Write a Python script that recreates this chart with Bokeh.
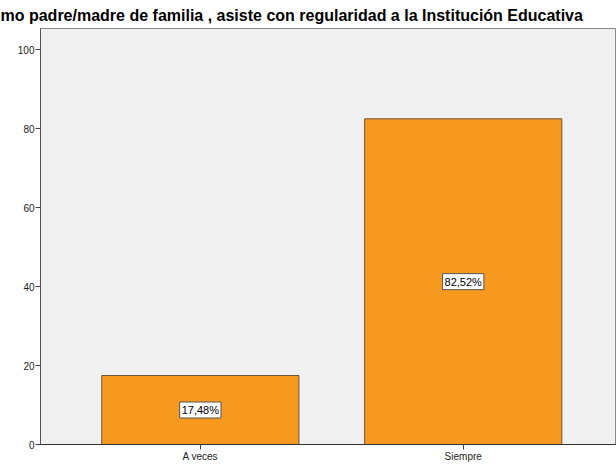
from bokeh.plotting import figure
from bokeh.models import ColumnDataSource, Label, FixedTicker, Range1d
from bokeh.embed import file_html
from bokeh.resources import INLINE

categories = ["A veces", "Siempre"]
percent = [17.48, 82.52]
bar_labels = ["17,48%", "82,52%"]
y_ticks = [0, 20, 40, 60, 80, 100]
title_text = "mo padre/madre de familia , asiste con regularidad a la Institución Educativa"

xs = list(range(len(categories)))
src = ColumnDataSource(dict(x=xs, top=percent))

p = figure(width=616, height=464, output_backend="svg", toolbar_location=None,
           x_range=Range1d(-0.608, 1.583), y_range=Range1d(0, 105.4),
           min_border_left=40, min_border_right=0, min_border_top=0, min_border_bottom=18)

p.title.text = title_text
p.title.text_font = "Liberation Sans"
p.title.text_font_size = "16px"
p.title.text_font_style = "bold"
p.title.text_color = "#000000"
p.title.align = "left"
p.title.offset = -40
p.title.standoff = 9

p.background_fill_color = "#F0F0F0"
p.border_fill_color = "white"
p.outline_line_color = "#888888"
p.outline_line_width = 1
p.xgrid.visible = False
p.ygrid.visible = False

p.vbar(x="x", top="top", width=0.75, source=src, fill_color="#F8991F",
       line_color="#6b5436", line_width=1)

for xi, v, lab in zip(xs, percent, bar_labels):
    p.add_layout(Label(x=xi, y=v / 2, text=lab, text_align="center",
                       text_baseline="middle", text_font="Liberation Sans",
                       text_font_size="11px", text_color="#000000",
                       background_fill_color="white", border_line_color="#555555",
                       border_line_width=1, padding=2))

p.yaxis.ticker = FixedTicker(ticks=y_ticks)
p.yaxis.minor_tick_line_color = None
p.yaxis.major_tick_out = 5
p.yaxis.major_tick_in = 0
p.yaxis.major_label_standoff = 1
p.yaxis.major_label_text_font = "Liberation Sans"
p.yaxis.major_label_text_font_size = "10px"
p.yaxis.major_label_text_color = "#222222"
p.yaxis.axis_line_color = "#555555"
p.yaxis.major_tick_line_color = "#444444"

p.xaxis.ticker = FixedTicker(ticks=xs)
p.xaxis.major_label_overrides = {i: c for i, c in zip(xs, categories)}
p.xaxis.minor_tick_line_color = None
p.xaxis.major_tick_out = 5
p.xaxis.major_tick_in = 0
p.xaxis.major_label_standoff = 1
p.xaxis.major_label_text_font = "Liberation Sans"
p.xaxis.major_label_text_font_size = "10px"
p.xaxis.major_label_text_color = "#222222"
p.xaxis.axis_line_color = "#333333"
p.xaxis.major_tick_line_color = "#444444"

open("out.html", "w").write(file_html(p, INLINE))
